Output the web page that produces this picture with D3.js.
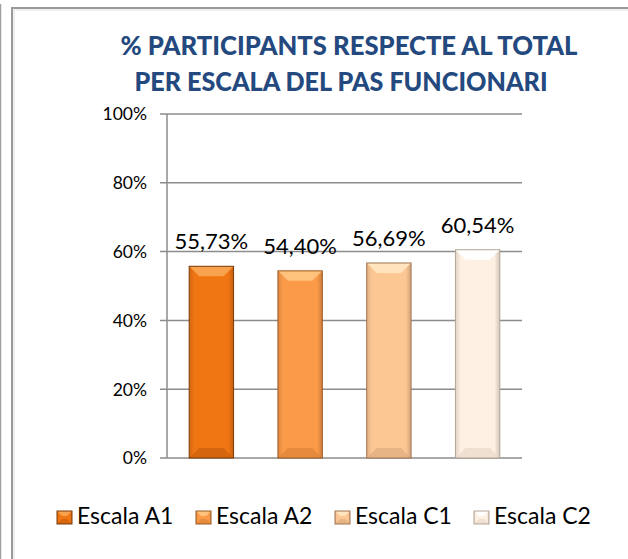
<!DOCTYPE html>
<html>
<head>
<meta charset="utf-8">
<script src="https://cdn.jsdelivr.net/npm/d3@7"></script>
<style>
  body { margin: 0; background: #fff; }
  svg { display: block; font-family: Lato, "Open Sans", sans-serif; }
</style>
</head>
<body>
<div id="chart"></div>
<script>
var categories = ["Escala A1", "Escala A2", "Escala C1", "Escala C2"];
var values = [0.5573, 0.5440, 0.5669, 0.6054];
var valueLabels = ["55,73%", "54,40%", "56,69%", "60,54%"];
var yTicks = [0, 0.2, 0.4, 0.6, 0.8, 1];
var titleLines = ["% PARTICIPANTS RESPECTE AL TOTAL", "PER ESCALA DEL PAS FUNCIONARI"];

var fills = ["#f07513", "#fb9b4a", "#fdc794", "#fef0e2"];
var tops = ["#f9a24e", "#ffc27c", "#ffe4bd", "#ffffff"];
var bottoms = ["#c45c0c", "#d97f35", "#d9a77c", "#e6d6c6"];
var strokes = ["#7a3c08", "#9a5a22", "#a27552", "#b5a596"];

var width = 628, height = 559;
var margin = { left: 167, right: 106, top: 114, bottom: 101 };

var svg = d3.select("#chart").append("svg")
    .attr("width", width)
    .attr("height", height);

// frame
svg.append("line")
  .attr("x1", 0.5).attr("x2", 0.5).attr("y1", 4).attr("y2", height)
  .attr("stroke", "#a0a0a0").attr("stroke-width", 1.5);
svg.append("rect")
  .attr("x", 12).attr("y", 8).attr("width", 700).attr("height", 700)
  .attr("fill", "none").attr("stroke", "#9a9a9a").attr("stroke-width", 2);
svg.append("rect")
  .attr("x", 14).attr("y", 10).attr("width", 700).attr("height", 700)
  .attr("fill", "none").attr("stroke", "#e2e2e2").attr("stroke-width", 1);

// title
svg.selectAll(".title")
  .data(titleLines)
  .enter()
  .append("text")
  .attr("class", "title")
  .attr("x", function(d, i) { return i === 0 ? 349 : 341; })
  .attr("y", function(d, i) { return 55 + i * 36; })
  .attr("text-anchor", "middle")
  .attr("font-weight", "900")
  .attr("font-size", 27)
  .attr("textLength", function(d, i) { return i === 0 ? 457 : 413; })
  .attr("lengthAdjust", "spacingAndGlyphs")
  .attr("fill", "#24497e")
  .text(function(d) { return d; });

var x = d3.scaleBand()
    .domain(categories)
    .range([margin.left, width - margin.right])
    .paddingInner(0.5)
    .paddingOuter(0.25);

var y = d3.scaleLinear()
    .domain([0, 1])
    .range([height - margin.bottom, margin.top]);

// gridlines
svg.append("g")
  .selectAll("line")
  .data(yTicks)
  .enter()
  .append("line")
  .attr("x1", margin.left - 7)
  .attr("x2", width - margin.right)
  .attr("y1", function(d) { return y(d); })
  .attr("y2", function(d) { return y(d); })
  .attr("stroke", "#8c8c8c")
  .attr("stroke-width", 1.5);

svg.append("line")
  .attr("x1", margin.left).attr("x2", margin.left)
  .attr("y1", y(1)).attr("y2", y(0))
  .attr("stroke", "#8c8c8c").attr("stroke-width", 1.5);

svg.append("g")
  .selectAll("text")
  .data(yTicks)
  .enter()
  .append("text")
  .attr("x", 147)
  .attr("y", function(d) { return y(d); })
  .attr("dy", "0.36em")
  .attr("text-anchor", "end")
  .attr("font-size", 17.5)
  .attr("fill", "#000")
  .text(function(d) { return Math.round(d * 100) + "%"; });

// side shading gradient
var defs = svg.append("defs");
var side = defs.append("linearGradient").attr("id", "side");
side.append("stop").attr("offset", "0").attr("stop-color", "#000").attr("stop-opacity", 0.12);
side.append("stop").attr("offset", "0.12").attr("stop-color", "#000").attr("stop-opacity", 0);
side.append("stop").attr("offset", "0.88").attr("stop-color", "#000").attr("stop-opacity", 0);
side.append("stop").attr("offset", "1").attr("stop-color", "#000").attr("stop-opacity", 0.18);

function drawBevel(g, x0, y0, w, h, i, bev) {
  g.append("rect")
    .attr("x", x0).attr("y", y0).attr("width", w).attr("height", h)
    .attr("fill", fills[i]);
  g.append("rect")
    .attr("x", x0).attr("y", y0).attr("width", w).attr("height", h)
    .attr("fill", "url(#side)");
  g.append("path")
    .attr("d", "M" + x0 + "," + y0 + "H" + (x0 + w) + "L" + (x0 + w - bev) + "," + (y0 + bev) +
      "H" + (x0 + bev) + "Z")
    .attr("fill", tops[i]);
  g.append("path")
    .attr("d", "M" + x0 + "," + (y0 + h) + "H" + (x0 + w) + "L" + (x0 + w - bev) + "," + (y0 + h - bev) +
      "H" + (x0 + bev) + "Z")
    .attr("fill", bottoms[i]).attr("opacity", 0.6);
  g.append("rect")
    .attr("x", x0).attr("y", y0).attr("width", w).attr("height", h)
    .attr("fill", "none").attr("stroke", strokes[i]).attr("stroke-width", 1);
}

// bars
var bars = svg.append("g");
values.forEach(function(v, i) {
  var bx = x(categories[i]);
  var by = y(v);
  var g = bars.append("g").attr("class", "bar");
  drawBevel(g, bx, by, x.bandwidth(), y(0) - by, i, 10);
});

svg.append("g")
  .selectAll("text")
  .data(values)
  .enter()
  .append("text")
  .attr("x", function(d, i) { return x(categories[i]) + x.bandwidth() / 2; })
  .attr("y", function(d) { return y(d) - 17; })
  .attr("text-anchor", "middle")
  .attr("font-size", 22)
  .attr("fill", "#000")
  .text(function(d, i) { return valueLabels[i]; });

// legend
var legend = svg.append("g");
categories.forEach(function(c, i) {
  var lx = 57 + i * 139;
  var g = legend.append("g");
  drawBevel(g, lx, 511, 15, 13, i, 5);
  g.append("text")
    .attr("x", lx + 20)
    .attr("y", 524)
    .attr("font-size", 23)
    .attr("fill", "#000")
    .text(c);
});
</script>
</body>
</html>
